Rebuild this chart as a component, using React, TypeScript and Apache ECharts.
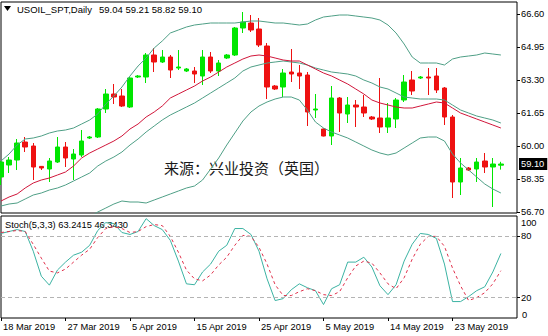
import React, { useEffect, useRef } from "react";
import * as echarts from "echarts";

const dates = [
  "18 Mar 2019", "19 Mar 2019", "20 Mar 2019", "21 Mar 2019", "22 Mar 2019", "24 Mar 2019", "25 Mar 2019", "26 Mar 2019",
  "27 Mar 2019", "28 Mar 2019", "29 Mar 2019", "31 Mar 2019", "1 Apr 2019", "2 Apr 2019", "3 Apr 2019", "4 Apr 2019",
  "5 Apr 2019", "7 Apr 2019", "8 Apr 2019", "9 Apr 2019", "10 Apr 2019", "11 Apr 2019", "12 Apr 2019", "14 Apr 2019",
  "15 Apr 2019", "16 Apr 2019", "17 Apr 2019", "18 Apr 2019", "19 Apr 2019", "22 Apr 2019", "23 Apr 2019", "24 Apr 2019",
  "25 Apr 2019", "26 Apr 2019", "28 Apr 2019", "29 Apr 2019", "30 Apr 2019", "1 May 2019", "2 May 2019", "3 May 2019",
  "5 May 2019", "6 May 2019", "7 May 2019", "8 May 2019", "9 May 2019", "10 May 2019", "12 May 2019", "13 May 2019",
  "14 May 2019", "15 May 2019", "16 May 2019", "17 May 2019", "19 May 2019", "20 May 2019", "21 May 2019", "22 May 2019",
  "23 May 2019", "24 May 2019", "26 May 2019", "27 May 2019", "28 May 2019", "29 May 2019", "30 May 2019",
];
const padCategories = ["", ""];

const opens = [
  58.45, 59.05, 59.3, 60.2, 60.0, 58.98, 58.85, 59.2, 59.95, 59.35, 59.55, 60.4, 60.45, 61.85, 62.6, 62.5,
  61.95, 63.45, 63.45, 64.55, 64.2, 64.45, 63.9, 63.75, 63.75, 63.5, 64.45, 63.75, 64.4, 64.55, 65.9, 66.15,
  65.85, 65.0, 63.0, 62.95, 63.7, 63.65, 63.55, 61.8, 60.85, 60.5, 62.4, 61.6, 62.05, 61.95, 61.45, 61.4,
  60.95, 61.35, 62.3, 63.3, 63.4, 63.45, 63.5, 62.9, 61.45, 58.2, 58.9, 58.85, 59.25, 58.95, 59.04,
];
const highs = [
  59.25, 59.45, 60.35, 60.45, 60.15, 59.0, 59.4, 60.45, 60.2, 59.85, 60.8, 60.5, 61.9, 62.85, 63.1, 62.85,
  63.45, 63.55, 64.65, 64.9, 64.8, 64.55, 64.8, 63.9, 63.95, 64.8, 64.7, 64.3, 64.6, 65.95, 66.7, 66.55,
  66.4, 65.15, 63.05, 63.85, 64.85, 64.05, 63.7, 62.6, 60.88, 63.0, 62.45, 62.45, 62.3, 62.55, 61.5, 63.4,
  62.15, 62.4, 63.55, 63.75, 63.5, 63.9, 63.9, 62.95, 61.55, 59.4, 58.95, 59.4, 59.65, 59.4, 59.21,
];
const lows = [
  58.05, 58.65, 58.8, 59.7, 58.3, 58.8, 58.2, 59.15, 58.95, 58.3, 59.45, 60.35, 60.4, 61.65, 62.1, 61.95,
  61.9, 63.4, 63.15, 63.7, 64.15, 63.4, 63.8, 63.7, 63.15, 63.05, 63.65, 63.5, 64.35, 64.5, 65.65, 65.7,
  64.95, 62.35, 62.8, 62.45, 63.2, 62.85, 61.0, 61.4, 60.48, 60.05, 60.7, 61.15, 60.95, 61.45, 61.3, 60.65,
  60.65, 60.9, 62.2, 62.55, 63.35, 62.55, 62.65, 61.05, 57.4, 57.55, 58.75, 58.2, 58.65, 56.95, 58.82,
];
const closes = [
  59.2, 59.3, 60.15, 59.95, 58.95, 58.9, 59.25, 59.95, 59.4, 59.6, 60.25, 60.45, 61.85, 62.6, 62.45, 62.0,
  63.4, 63.5, 64.55, 64.2, 64.45, 63.8, 63.95, 63.85, 63.6, 64.45, 63.75, 64.15, 64.55, 65.9, 66.2, 65.8,
  65.05, 62.95, 62.85, 63.65, 63.6, 63.5, 61.7, 61.85, 60.5, 62.4, 61.65, 62.05, 61.95, 61.65, 61.35, 60.95,
  61.4, 62.3, 63.2, 62.75, 63.45, 63.4, 62.8, 61.45, 58.2, 58.9, 58.8, 59.2, 58.95, 59.1, 59.1,
];

const bbUpper = [
  59.25, 59.6, 60.05, 60.35, 60.4, 60.5, 60.65, 60.75, 60.8, 60.9, 61.1, 61.3, 61.6, 62.1, 62.5, 62.95,
  63.5, 64.0, 64.4, 64.9, 65.25, 65.65, 65.8, 65.95, 66.05, 66.1, 66.15, 66.15, 66.15, 66.15, 66.2, 66.25,
  66.25, 66.2, 66.15, 66.15, 66.1, 66.05, 66.1, 66.3, 66.45, 66.5, 66.55, 66.55, 66.5, 66.45, 66.4, 66.3,
  66.05, 65.65, 65.1, 64.45, 64.15, 64.15, 64.15, 64.05, 64.35, 64.45, 64.5, 64.55, 64.65, 64.6, 64.55,
];
const bbMiddle = [
  57.0, 57.1, 57.15, 57.35, 57.55, 57.65, 57.8, 57.9, 58.05, 58.25, 58.45, 58.65, 59.0, 59.25, 59.45, 59.7,
  60.05, 60.35, 60.7, 61.0, 61.3, 61.55, 61.75, 61.95, 62.15, 62.4, 62.65, 62.9, 63.15, 63.4, 63.75, 63.95,
  64.05, 64.15, 64.2, 64.25, 64.2, 64.15, 64.05, 63.9, 63.8, 63.7, 63.65, 63.6, 63.5, 63.3, 63.15, 62.95,
  62.85, 62.65, 62.45, 62.4, 62.35, 62.35, 62.35, 62.3, 62.05, 61.8, 61.65, 61.5, 61.4, 61.3, 61.15,
];
const bbLower = [
  55.5, 55.6, 55.7, 55.75, 55.85, 55.9, 56.0, 56.05, 56.15, 56.25, 56.35, 56.45, 56.7, 56.9, 57.1, 57.25,
  57.2, 57.2, 57.15, 57.3, 57.45, 57.6, 57.75, 57.9, 58.0, 58.3, 58.85, 59.4, 60.05, 60.65, 61.25, 61.7,
  62.0, 62.2, 62.35, 62.45, 62.45, 62.3, 61.8, 61.2, 60.9, 60.7, 60.55, 60.4, 60.2, 60.0, 59.8, 59.65,
  59.55, 59.65, 59.9, 60.15, 60.4, 60.45, 60.45, 60.25, 59.6, 59.15, 58.8, 58.45, 58.1, 57.85, 57.65,
];
const maLine = [
  57.25, 57.45, 57.6, 57.9, 58.15, 58.3, 58.4, 58.55, 58.7, 59.0, 59.4, 59.65, 59.85, 60.05, 60.25, 60.5,
  60.85, 61.1, 61.45, 61.7, 62.0, 62.4, 62.6, 62.8, 63.0, 63.25, 63.45, 63.7, 63.95, 64.15, 64.35, 64.5,
  64.55, 64.5, 64.4, 64.3, 64.25, 64.25, 64.05, 63.85, 63.65, 63.5, 63.3, 63.1, 62.85, 62.6, 62.3, 62.15,
  62.05, 61.95, 61.9, 61.9, 62.0, 62.1, 62.2, 62.15, 61.9, 61.65, 61.5, 61.35, 61.2, 61.05, 60.9,
];

const stochMain = [
  82.9, 84.8, 86.7, 84.8, 65.5, 41.0, 32.2, 47.0, 54.8, 61.6, 64.5, 71.3, 85.8, 93.5, 92.6, 83.8,
  81.9, 84.8, 97.4, 90.6, 86.7, 76.1, 55.8, 33.5, 32.6, 45.1, 52.9, 65.5, 71.3, 87.7, 87.7, 81.9,
  65.5, 38.4, 17.1, 19.0, 27.7, 33.5, 29.7, 26.8, 13.2, 28.7, 32.6, 54.8, 54.8, 59.6, 50.0, 31.6,
  22.9, 32.6, 55.8, 72.3, 82.9, 81.9, 78.0, 52.9, 16.1, 16.1, 21.0, 26.8, 30.6, 45.1, 63.24,
];
const stochSignal = [
  83.8, 84.8, 85.8, 84.8, 72.2, 58.7, 46.0, 44.2, 48.0, 54.8, 61.6, 67.4, 79.0, 87.7, 89.6, 87.7,
  83.8, 84.8, 89.6, 91.6, 90.6, 80.0, 64.5, 47.0, 38.4, 36.4, 42.2, 52.0, 59.6, 71.3, 81.0, 80.0,
  69.3, 52.9, 32.6, 22.0, 22.0, 25.8, 28.7, 26.8, 22.9, 22.0, 25.8, 39.4, 51.0, 55.8, 53.8, 44.2,
  33.5, 28.7, 39.4, 57.7, 72.3, 80.0, 80.0, 70.3, 49.0, 31.6, 17.1, 20.0, 24.8, 33.5, 46.34,
];

const priceTicks = [56.7, 58.35, 60.0, 61.65, 63.3, 64.95, 66.6];
const stochTicks = [20, 80, 100];
const stochMin = 0;
const stochLevels = [20, 80];
const lastPrice = 59.1;

const titleText = "USOIL_SPT,Daily";
const ohlcText = "59.04 59.21 58.82 59.10";
const stochText = "Stoch(5,3,3) 63.2415 46.3430";
const zeroText = "0";
const watermark = "来源：兴业投资（英国）";

const UP = "#00e600";
const DOWN = "#ee1111";
const BAND = "#4f9f86";
const MA = "#d0163a";
const K_COLOR = "#3cb3a3";
const D_COLOR = "#e0304b";
const FONT = "Liberation Sans";

export default function App() {
  const ref = useRef<HTMLDivElement>(null);

  useEffect(() => {
    if (!ref.current) return;
    const chart = echarts.init(ref.current, undefined, { renderer: "svg" });
    const cats = [...dates, ...padCategories];
    const candles = dates.map((_, i) => [opens[i], closes[i], lows[i], highs[i]]);
    const stochMax = stochTicks[stochTicks.length - 1];
    const showDate = (idx: number, val: string) => idx % 8 === 0 && val !== "";

    const lineSeries = (name: string, data: number[], color: string, x: number, y: number, dashed = false) => ({
      name,
      type: "line",
      xAxisIndex: x,
      yAxisIndex: y,
      data,
      symbol: "none",
      silent: true,
      lineStyle: { color, width: 1, type: dashed ? [3, 3] : "solid" },
      z: 3,
    });

    const option: any = {
      animation: false,
      backgroundColor: "#ffffff",
      textStyle: { fontFamily: FONT },
      grid: [
        { left: 1, top: 2, width: 516, height: 211, show: true, borderColor: "#000", borderWidth: 1 },
        { left: 1, top: 216, width: 516, height: 102, show: true, borderColor: "#000", borderWidth: 1 },
      ],
      xAxis: [
        {
          type: "category", gridIndex: 0, data: cats, boundaryGap: false,
          axisLine: { show: false }, axisTick: { show: false }, axisLabel: { show: false }, splitLine: { show: false },
        },
        {
          type: "category", gridIndex: 1, data: cats, boundaryGap: false,
          axisLine: { show: false },
          axisTick: { show: true, interval: showDate, length: 3, lineStyle: { color: "#000" } },
          axisLabel: { interval: showDate, align: "left", margin: 4, fontSize: 9.3, color: "#000", fontFamily: FONT, padding: [0, 0, 0, 2] },
          splitLine: { show: false },
        },
      ],
      yAxis: [
        {
          type: "value", gridIndex: 0, position: "right", min: 56.65, max: 67.2,
          axisLine: { show: false },
          axisTick: { show: true, length: 3, customValues: priceTicks, lineStyle: { color: "#000" } },
          axisLabel: {
            customValues: priceTicks, formatter: (v: number) => v.toFixed(2),
            margin: 4, fontSize: 9.3, color: "#000", fontFamily: FONT,
          },
          splitLine: { show: false },
        },
        {
          type: "value", gridIndex: 1, position: "right", min: stochMin, max: stochMax,
          axisLine: { show: false },
          axisTick: { show: true, length: 3, customValues: stochLevels, lineStyle: { color: "#000" } },
          axisLabel: {
            customValues: stochTicks, margin: 4, fontSize: 9.3, color: "#000", fontFamily: FONT,
            showMaxLabel: true,
            formatter: (v: number) => (v === stochMax ? "{top|" + v + "}" : String(v)),
            rich: {
              top: { fontSize: 9.3, fontFamily: FONT, color: "#000", padding: [13, 0, 0, 0] },
            },
          },
          splitLine: { show: false },
        },
      ],
      series: [
        {
          name: "USOIL", type: "candlestick", xAxisIndex: 0, yAxisIndex: 0, data: candles, barWidth: 5,
          silent: true,
          itemStyle: { color: UP, color0: DOWN, borderColor: UP, borderColor0: DOWN, borderWidth: 1 },
          markLine: {
            silent: true, symbol: "none",
            lineStyle: { color: "rgba(0,0,0,0)", width: 1, type: "solid" },
            label: {
              show: true, position: "end", formatter: lastPrice.toFixed(2), color: "#fff",
              backgroundColor: "#000", padding: [2, 3, 1, 2], fontSize: 9.3, fontFamily: FONT, distance: 2,
            },
            data: [{ yAxis: lastPrice }],
          },
          z: 2,
        },
        lineSeries("bbUpper", bbUpper, BAND, 0, 0),
        lineSeries("bbMiddle", bbMiddle, BAND, 0, 0),
        lineSeries("bbLower", bbLower, BAND, 0, 0),
        lineSeries("ma", maLine, MA, 0, 0),
        {
          ...lineSeries("stochMain", stochMain, K_COLOR, 1, 1),
          markLine: {
            silent: true, symbol: "none", label: { show: false },
            lineStyle: { color: "#b4b4b4", type: [4, 3], width: 1 },
            data: stochLevels.map((v) => ({ yAxis: v })),
          },
        },
        lineSeries("stochSignal", stochSignal, D_COLOR, 1, 1, true),
      ],
      graphic: [
        { type: "polygon", shape: { points: [[4, 6], [11, 6], [7.5, 11]] }, style: { fill: "#000" } },
        { type: "text", x: 17, y: 9, style: { text: titleText, fontSize: 9.5, fontFamily: FONT, fill: "#000", verticalAlign: "middle", align: "left" } },
        { type: "text", x: 99, y: 9, style: { text: ohlcText, fontSize: 9.5, fontFamily: FONT, fill: "#000", verticalAlign: "middle", align: "left" } },
        { type: "text", x: 5, y: 225, style: { text: stochText, fontSize: 9.3, fontFamily: FONT, fill: "#000", verticalAlign: "middle", align: "left" } },
        { type: "text", x: 522, y: 315, z: 100, style: { text: zeroText, fontSize: 9.3, fontFamily: FONT, fill: "#000", verticalAlign: "middle", align: "left" } },
        { type: "text", x: 164, y: 167, style: { text: watermark, fontSize: 15, fontFamily: "Noto Sans CJK SC", fill: "#1a1a1a", verticalAlign: "middle", align: "left" } },
      ],
    };

    chart.setOption(option);
    return () => chart.dispose();
  }, []);

  return (
    <div style={{ position: "absolute", left: 0, top: 0, width: 548, height: 336, background: "#fff" }}>
      <div ref={ref} style={{ width: 548, height: 336 }} />
    </div>
  );
}
